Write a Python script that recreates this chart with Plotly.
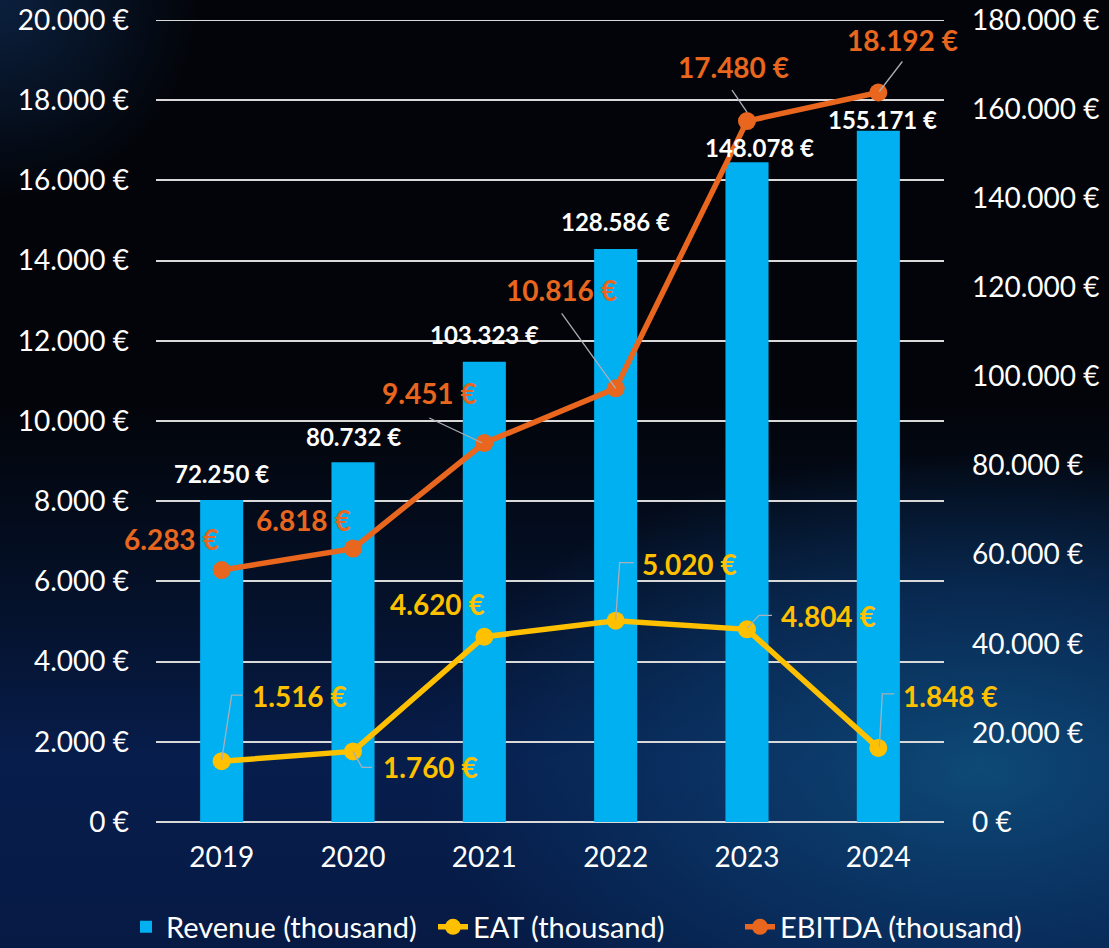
import base64
import plotly.graph_objects as go

# ---------------- data ----------------
years = ["2019", "2020", "2021", "2022", "2023", "2024"]
revenue = [72250, 80732, 103323, 128586, 148078, 155171]
eat = [1516, 1760, 4620, 5020, 4804, 1848]
ebitda = [6283, 6818, 9451, 10816, 17480, 18192]

left_ticks = list(range(0, 20001, 2000))
right_ticks = list(range(0, 180001, 20000))

# ---------------- style ----------------
BLUE = "#00B0F0"
YELLOW = "#FFC000"
ORANGE = "#E9661E"
GRID = "#D9D9D9"
LEADER = "#A9AEB8"
FONT = "Lato"

W, H = 1109, 948
ML, MR, MT, MB = 156, 165, 20, 126
PW, PH = W - ML - MR, H - MT - MB


def eur(v):
    return f"{v:,}".replace(",", ".") + " €"


xpos = list(range(len(years)))

# label offsets in pixels (dx, dy up)
rev_off = [(0, 27), (0, 26), (0, 27), (0, 28), (12, 15), (4, 11)]
ebitda_off = [(-50, 31), (-50, 29), (-55, 50), (-54, 98), (-14, 54), (24, 53)]
eat_off = [(78, 65), (77, -16), (-47, 33), (74, 57), (81, 13), (72, 52)]

# leader paths (pixel offsets from point, y up), None = no leader
ebitda_lead = [None, None,
               [(-55, 25), (-2, 0)],
               [(-54, 75), (0, 0)],
               [(-15, 31), (0, 9)],
               [(24, 31), (1, 1)]]
eat_lead = [[(0, 1), (10, 66), (21, 66)],
            [(0, 0), (9, -16), (19, -16)],
            None,
            [(0, 1), (4, 58), (18, 58)],
            [(0, 1), (12, 14), (25, 14)],
            [(1, 1), (4, 54), (16, 54)]]

fig = go.Figure()

fig.add_trace(go.Bar(
    x=xpos, y=revenue, name="Revenue (thousand)",
    marker=dict(color=BLUE, line=dict(width=0)),
    yaxis="y", hoverinfo="skip",
))
fig.add_trace(go.Scatter(
    x=xpos, y=eat, name="EAT (thousand)", mode="lines+markers",
    line=dict(color=YELLOW, width=5.5), marker=dict(color=YELLOW, size=18),
    yaxis="y2", hoverinfo="skip",
))
fig.add_trace(go.Scatter(
    x=xpos, y=ebitda, name="EBITDA (thousand)", mode="lines+markers",
    line=dict(color=ORANGE, width=5.5), marker=dict(color=ORANGE, size=18),
    yaxis="y2", hoverinfo="skip",
))

annotations = []
shapes = [dict(
    type="line", xref="paper", x0=0, x1=1, yref="y2",
    y0=left_ticks[-1], y1=left_ticks[-1],
    line=dict(color=GRID, width=2), layer="below",
)]

for x, v, (dx, dy) in zip(xpos, revenue, rev_off):
    annotations.append(dict(
        x=x, y=v, xref="x", yref="y", text=eur(v), showarrow=False,
        xanchor="center", yanchor="middle", xshift=dx, yshift=dy,
        font=dict(family=FONT, size=24, color="white", weight="bold"),
    ))

for series, offs, leads, col in ((ebitda, ebitda_off, ebitda_lead, ORANGE),
                                 (eat, eat_off, eat_lead, YELLOW)):
    for x, v, (dx, dy), lead in zip(xpos, series, offs, leads):
        annotations.append(dict(
            x=x, y=v, xref="x", yref="y2", text=eur(v), showarrow=False,
            xanchor="center", yanchor="middle", xshift=dx, yshift=dy,
            font=dict(family=FONT, size=28, color=col, weight="bold"),
        ))
        if lead:
            path = "M " + " L ".join(f"{px},{py}" for px, py in lead)
            shapes.append(dict(
                type="path", xref="x", yref="y2",
                xsizemode="pixel", ysizemode="pixel",
                xanchor=x, yanchor=v, path=path,
                line=dict(color=LEADER, width=1.3), layer="above",
            ))

# background gradient as an inline SVG image
svg = f'''<svg xmlns="http://www.w3.org/2000/svg" width="{W}" height="{H}" viewBox="0 0 {W} {H}">
<defs>
<linearGradient id="v" x1="0" y1="0" x2="0" y2="1">
<stop offset="0" stop-color="#061a3a" stop-opacity="0"/>
<stop offset="0.42" stop-color="#061a3a" stop-opacity="0"/>
<stop offset="0.8" stop-color="#071d4c" stop-opacity="1"/>
<stop offset="1" stop-color="#061a44" stop-opacity="1"/>
</linearGradient>
<radialGradient id="g" cx="980" cy="770" r="1" gradientUnits="userSpaceOnUse"
 gradientTransform="translate(980 770) scale(560 320) translate(-980 -770)">
<stop offset="0" stop-color="#0e4c78" stop-opacity="0.95"/>
<stop offset="0.55" stop-color="#0b3a6c" stop-opacity="0.6"/>
<stop offset="1" stop-color="#0b3a6c" stop-opacity="0"/>
</radialGradient>
<radialGradient id="t" cx="0" cy="0" r="200" gradientUnits="userSpaceOnUse">
<stop offset="0" stop-color="#0f2c55" stop-opacity="0.7"/>
<stop offset="1" stop-color="#0f2c55" stop-opacity="0"/>
</radialGradient>
</defs>
<rect width="{W}" height="{H}" fill="#020409"/>
<rect width="{W}" height="{H}" fill="url(#v)"/>
<rect width="{W}" height="{H}" fill="url(#g)"/>
<rect width="{W}" height="{H}" fill="url(#t)"/>
</svg>'''
bg_uri = "data:image/svg+xml;base64," + base64.b64encode(svg.encode()).decode()

fig.update_layout(
    width=W, height=H,
    margin=dict(l=ML, r=MR, t=MT, b=MB, pad=0, autoexpand=False),
    paper_bgcolor="#020409", plot_bgcolor="rgba(0,0,0,0)",
    separators=",.",
    font=dict(family=FONT, color="white", size=28),
    bargap=0.672,
    showlegend=True,
    legend=dict(
        orientation="h",
        x=(126 - ML) / PW, xanchor="left",
        y=-(927 - MT - PH) / PH, yanchor="middle",
        font=dict(family=FONT, size=29, color="white"),
        entrywidth=262, entrywidthmode="pixels",
        bgcolor="rgba(0,0,0,0)", traceorder="normal",
    ),
    xaxis=dict(
        range=[-0.5, len(years) - 0.5], tickvals=xpos, ticktext=years,
        showgrid=False, zeroline=False, showline=False,
        ticks="", tickfont=dict(family=FONT, size=28, color="white"),
        ticklabelstandoff=16,
    ),
    yaxis=dict(
        side="right", range=[0, right_ticks[-1]],
        tickvals=right_ticks, ticktext=[eur(t) for t in right_ticks],
        showgrid=False, zeroline=False, showline=False, ticks="",
        tickfont=dict(family=FONT, size=28, color="white"),
        ticklabelstandoff=27,
    ),
    yaxis2=dict(
        overlaying="y", side="left", range=[0, left_ticks[-1]],
        tickvals=left_ticks, ticktext=[eur(t) for t in left_ticks],
        showgrid=True, gridcolor=GRID, gridwidth=2,
        zeroline=True, zerolinecolor=GRID, zerolinewidth=2,
        showline=False, ticks="",
        tickfont=dict(family=FONT, size=28, color="white"),
        ticklabelstandoff=26,
    ),
    annotations=annotations,
    shapes=shapes,
    images=[dict(
        source=bg_uri, xref="paper", yref="paper",
        x=-ML / PW, y=1 + MT / PH, sizex=W / PW, sizey=H / PH,
        xanchor="left", yanchor="top", sizing="stretch", layer="below",
    )],
)

fig.write_html(
    "out.html",
    config={"displayModeBar": False},
    post_script="document.body.style.margin='0';document.body.style.overflow='hidden';",
)
